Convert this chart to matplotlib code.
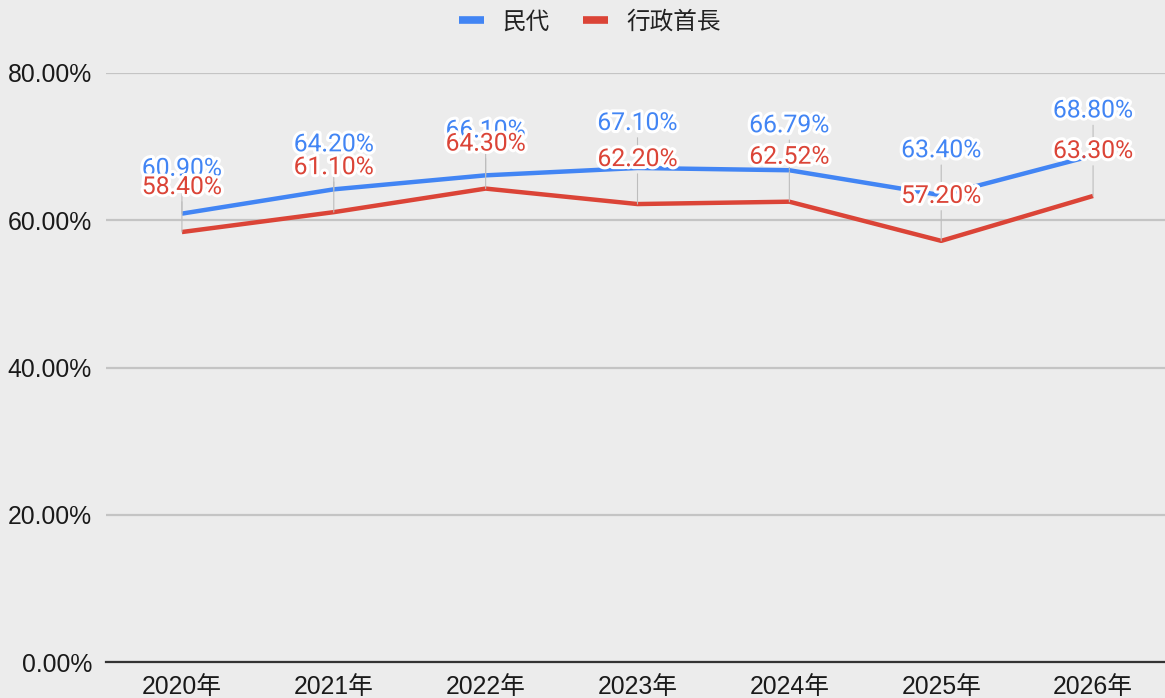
import matplotlib
matplotlib.use("Agg")
import matplotlib.pyplot as plt
import matplotlib.patheffects as pe
from matplotlib.lines import Line2D

years = ["2020年", "2021年", "2022年", "2023年", "2024年", "2025年", "2026年"]
series_names = ["民代", "行政首長"]
reps = [60.90, 64.20, 66.10, 67.10, 66.79, 63.40, 68.80]
execs = [58.40, 61.10, 64.30, 62.20, 62.52, 57.20, 63.30]
yticks = [0, 20, 40, 60, 80]

BLUE = "#4285f4"
RED = "#db4437"
BG = "#ececec"
CJK = ["Liberation Sans", "Noto Sans CJK TC", "DejaVu Sans"]
LBL = ["Roboto", "Noto Sans CJK TC", "DejaVu Sans"]

fig = plt.figure(figsize=(11.65, 6.98), dpi=100, facecolor=BG)
ax = fig.add_axes([106 / 1165, 1 - 662 / 698, 1063 / 1165, (662 - 73) / 698])
ax.set_facecolor(BG)

x = list(range(len(years)))
ax.set_xlim(-0.5, len(years) - 0.5)
ax.set_ylim(0, 80)
ax.set_yticks(yticks)
ax.set_yticklabels([f"{v:.2f}%" for v in yticks], family=CJK, fontsize=17.8, color="#1a1a1a")
ax.set_xticks(x)
ax.set_xticklabels(years, family=CJK, fontsize=17.8, color="#1a1a1a")
ax.tick_params(axis="both", length=0)
ax.tick_params(axis="y", pad=10)
ax.tick_params(axis="x", pad=9)
for s in ["left", "right", "top"]:
    ax.spines[s].set_visible(False)
ax.spines["bottom"].set_color("#333333")
ax.spines["bottom"].set_linewidth(1.6)
ax.grid(axis="y", color="#c4c4c4", linewidth=1.6, zorder=0)
ax.set_axisbelow(True)

ax.plot(x, reps, color=BLUE, linewidth=3.2, zorder=3, solid_capstyle="butt")
ax.plot(x, execs, color=RED, linewidth=3.2, zorder=3, solid_capstyle="butt")

stroke = [pe.withStroke(linewidth=4.5, foreground="white")]
for vals, col, z in [(reps, BLUE, 4), (execs, RED, 5)]:
    for xi, v in zip(x, vals):
        ax.annotate(f"{v:.2f}%", xy=(xi, v), xytext=(0, 45), textcoords="offset pixels",
                    ha="center", va="center", fontsize=17.8, color=col, family=LBL,
                    path_effects=stroke, zorder=z, annotation_clip=False,
                    arrowprops=dict(arrowstyle="-", color="#bdbdbd", lw=0.8,
                                    shrinkA=0, shrinkB=0))

handles = [Line2D([0], [0], color=BLUE, lw=5.5, solid_capstyle="butt"),
           Line2D([0], [0], color=RED, lw=5.5, solid_capstyle="butt")]
leg = fig.legend(handles, series_names, loc="center", bbox_to_anchor=(590 / 1165, 1 - 22 / 698),
                 ncol=2, frameon=False, handlelength=1.05, handletextpad=0.8,
                 columnspacing=1.4, prop={"family": CJK, "size": 17})
for t in leg.get_texts():
    t.set_color("#222222")

fig.savefig("out.png", dpi=100, facecolor=BG)
